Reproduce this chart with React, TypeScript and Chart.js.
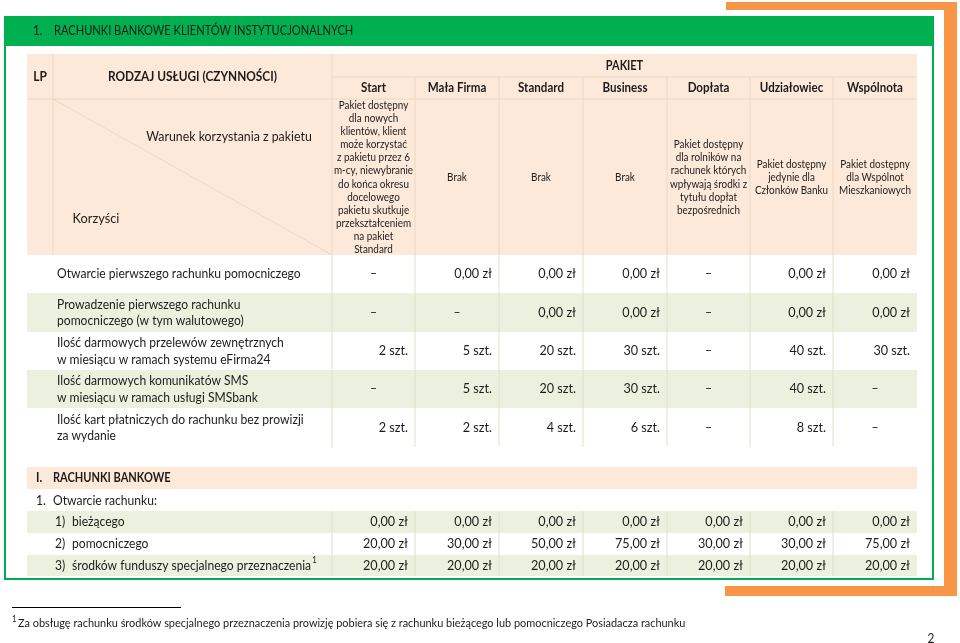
import { useEffect, useRef } from 'react';
import { Chart, registerables } from 'chart.js';

Chart.register(...registerables);

// ---------- data ----------
const titleNumber = '1.';
const titleText = 'RACHUNKI BANKOWE KLIENTÓW INSTYTUCJONALNYCH';
const packages = ['Start', 'Mała Firma', 'Standard', 'Business', 'Dopłata', 'Udziałowiec', 'Wspólnota'];

const conditionsStart = ['Pakiet dostępny', 'dla nowych', 'klientów, klient', 'może korzystać', 'z pakietu przez 6', 'm-cy, niewybranie', 'do końca okresu', 'docelowego', 'pakietu skutkuje', 'przekształceniem', 'na pakiet', 'Standard'];
const conditionsMalaFirma = ['Brak'];
const conditionsStandard = ['Brak'];
const conditionsBusiness = ['Brak'];
const conditionsDoplata = ['Pakiet dostępny', 'dla rolników na', 'rachunek których', 'wpływają środki z', 'tytułu dopłat', 'bezpośrednich'];
const conditionsUdzialowiec = ['Pakiet dostępny', 'jedynie dla', 'Członków Banku'];
const conditionsWspolnota = ['Pakiet dostępny', 'dla Wspólnot', 'Mieszkaniowych'];
const conditions = [conditionsStart, conditionsMalaFirma, conditionsStandard, conditionsBusiness, conditionsDoplata, conditionsUdzialowiec, conditionsWspolnota];

const benefitLabels = [
  ['Otwarcie pierwszego rachunku pomocniczego'],
  ['Prowadzenie pierwszego rachunku', 'pomocniczego (w tym walutowego)'],
  ['Ilość darmowych przelewów zewnętrznych', 'w miesiącu w ramach systemu eFirma24'],
  ['Ilość darmowych komunikatów SMS', 'w miesiącu w ramach usługi SMSbank'],
  ['Ilość kart płatniczych do rachunku bez prowizji', 'za wydanie'],
];
const benefitUnits = ['zł', 'zł', 'szt.', 'szt.', 'szt.'];
const openingFirstAux = [null, 0, 0, 0, null, 0, 0];
const keepingFirstAux = [null, null, 0, 0, null, 0, 0];
const freeTransfers = [2, 5, 20, 30, null, 40, 30];
const freeSms = [null, 5, 20, 30, null, 40, null];
const freeCards = [2, 2, 4, 6, null, 8, null];
const benefitValues = [openingFirstAux, keepingFirstAux, freeTransfers, freeSms, freeCards];

const sectionNumber = 'I.';
const sectionTitle = 'RACHUNKI BANKOWE';
const subNumber = '1.';
const subTitle = 'Otwarcie rachunku:';
const openingLabels = ['bieżącego', 'pomocniczego', 'środków funduszy specjalnego przeznaczenia'];
const feeCurrent = [0, 0, 0, 0, 0, 0, 0];
const feeAuxiliary = [20, 30, 50, 75, 30, 30, 75];
const feeSpecial = [20, 20, 20, 20, 20, 20, 20];
const openingFees = [feeCurrent, feeAuxiliary, feeSpecial];

const footnote = 'Za obsługę rachunku środków specjalnego przeznaczenia prowizję pobiera się z rachunku bieżącego lub pomocniczego Posiadacza rachunku';
const pageNumber = '2';

// ---------- layout ----------
const W = 960;
const H = 643;
const colEdges = [27, 53, 332, 415, 499, 583, 667, 750, 833, 917];
const benefitRowEdges = [255, 293, 332, 370, 408, 447];
const openingRowEdges = [511, 533, 555, 576];

const FONT = 'Lato, "Open Sans", "Liberation Sans", sans-serif';
const TEXT = '#1c1c1c';
const GREEN = '#00B050';
const ORANGE = '#F79646';
const PEACH = '#FDE9D9';
const LIGHTGREEN = '#EBF1DE';
const LINE_PEACH = '#EBD8C3';
const LINE_WHITE = '#DCE3C9';
const SQ = 0.91; // horizontal condensing to approximate Calibri proportions
const BODY = 13.3;

const fmtValue = (v: number | null, unit: string) => {
  if (v === null) return null;
  if (unit === 'zł') return v.toFixed(2).replace('.', ',') + ' zł';
  return v + ' ' + unit;
};

const tablePlugin = {
  id: 'tablePlugin',
  afterDraw(chart: any) {
    const ctx: CanvasRenderingContext2D = chart.ctx;
    const sx = chart.scales.x;
    const sy = chart.scales.y;
    const X = (v: number) => sx.getPixelForValue(v);
    const Y = (v: number) => sy.getPixelForValue(v);
    const rect = (x0: number, y0: number, x1: number, y1: number, color: string) => {
      ctx.fillStyle = color;
      ctx.fillRect(X(x0), Y(y0), X(x1) - X(x0), Y(y1) - Y(y0));
    };
    const line = (x0: number, y0: number, x1: number, y1: number, color: string, w = 1) => {
      ctx.strokeStyle = color;
      ctx.lineWidth = w;
      ctx.beginPath();
      ctx.moveTo(X(x0), Y(y0));
      ctx.lineTo(X(x1), Y(y1));
      ctx.stroke();
    };
    const text = (s: string, x: number, y: number, size: number, align: CanvasTextAlign = 'left', weight = 'normal', sq = SQ, color = TEXT) => {
      ctx.save();
      ctx.font = `${weight} ${size}px ${FONT}`;
      ctx.fillStyle = color;
      ctx.textAlign = align;
      ctx.textBaseline = 'middle';
      ctx.translate(X(x), Y(y));
      ctx.scale(sq, 1);
      ctx.fillText(s, 0, 0);
      const w = ctx.measureText(s).width * sq;
      ctx.restore();
      return w;
    };

    ctx.save();
    // orange frame
    rect(726, 2, 957, 10, ORANGE);
    rect(944, 2, 957, 596, ORANGE);
    rect(725, 586, 957, 596, ORANGE);
    // white inner area + green frame
    rect(5, 16, 933, 579, '#ffffff');
    rect(4, 16, 934, 45, GREEN);
    ctx.strokeStyle = GREEN;
    ctx.lineWidth = 2;
    ctx.strokeRect(X(5), Y(45), X(933) - X(5), Y(579) - Y(45));
    text(titleNumber, 33, 31, 13.3, 'left', 'normal', 0.87, '#1a1a1a');
    text(titleText, 54, 31, 13.3, 'left', 'normal', 0.835, '#1a1a1a');

    const L = colEdges[0];
    const R = colEdges[colEdges.length - 1];
    // header background
    rect(L, 54, R, 255, PEACH);
    // benefit bands
    for (let i = 0; i < benefitValues.length; i++) {
      if (i % 2 === 1) rect(L, benefitRowEdges[i], R, benefitRowEdges[i + 1], LIGHTGREEN);
    }
    // header grid
    line(colEdges[2], 77, R, 77, LINE_PEACH);
    line(L, 99, R, 99, LINE_PEACH);
    line(colEdges[1], 54, colEdges[1], 255, LINE_PEACH);
    line(colEdges[2], 54, colEdges[2], 255, LINE_PEACH);
    for (let c = 3; c < colEdges.length - 1; c++) line(colEdges[c], 77, colEdges[c], 255, LINE_PEACH);
    line(colEdges[1], 99, colEdges[2], 255, LINE_PEACH);
    // benefit grid
    for (let c = 2; c < colEdges.length - 1; c++) line(colEdges[c], 255, colEdges[c], benefitRowEdges[benefitRowEdges.length - 1], LINE_WHITE);

    // header text
    text('LP', (colEdges[0] + colEdges[1]) / 2, 77, 13.3, 'center', 'bold', 0.9);
    text('RODZAJ USŁUGI (CZYNNOŚCI)', (colEdges[1] + colEdges[2]) / 2, 77, 13.3, 'center', 'bold', 0.89);
    text('PAKIET', (colEdges[2] + R) / 2, 65.5, 13.3, 'center', 'bold', 0.82);
    packages.forEach((p, i) => text(p, (colEdges[i + 2] + colEdges[i + 3]) / 2, 88, 13.3, 'center', 'bold', 0.87));
    text('Warunek korzystania z pakietu', 229, 136, 14.2, 'center', 'normal', 0.87);
    text('Korzyści', 96, 218, 14.2, 'center', 'normal', 0.9);
    const lh = 13.1;
    conditions.forEach((lines, i) => {
      const cx = (colEdges[i + 2] + colEdges[i + 3]) / 2;
      const y0 = 177.5 - ((lines.length - 1) * lh) / 2;
      lines.forEach((s, k) => text(s, cx, y0 + k * lh, 11, 'center', 'normal', 0.9));
    });

    // benefit rows
    benefitLabels.forEach((lines, r) => {
      const yc = (benefitRowEdges[r] + benefitRowEdges[r + 1]) / 2;
      const y0 = yc - ((lines.length - 1) * 16.5) / 2;
      lines.forEach((s, k) => text(s, 57, y0 + k * 16.5, BODY));
      benefitValues[r].forEach((v, c) => {
        const s = fmtValue(v, benefitUnits[r]);
        if (s === null) text('–', (colEdges[c + 2] + colEdges[c + 3]) / 2, yc, BODY, 'center');
        else text(s, colEdges[c + 3] - 7, yc, BODY, 'right', 'normal', 0.95);
      });
    });

    // section 2
    rect(L, 467, R, 489, PEACH);
    text(sectionNumber, 36, 478, 13.3, 'left', 'bold', 0.88);
    text(sectionTitle, 53, 478, 13.3, 'left', 'bold', 0.83);
    text(subNumber, 36, 500.5, BODY);
    text(subTitle, 53, 500.5, BODY);
    for (let i = 0; i < openingFees.length; i++) {
      if (i % 2 === 0) rect(L, openingRowEdges[i], R, openingRowEdges[i + 1], LIGHTGREEN);
    }
    for (let c = 2; c < colEdges.length - 1; c++) line(colEdges[c], openingRowEdges[0], colEdges[c], openingRowEdges[openingRowEdges.length - 1], LINE_WHITE);
    openingLabels.forEach((lab, r) => {
      const yc = (openingRowEdges[r] + openingRowEdges[r + 1]) / 2;
      text(`${r + 1})`, 55, yc, BODY);
      const w = text(lab, 72, yc, BODY);
      if (r === 2) text('1', 72 + w + 1, yc - 5, 8.5);
      openingFees[r].forEach((v, c) => text(fmtValue(v, 'zł') as string, colEdges[c + 3] - 7, yc, BODY, 'right', 'normal', 0.95));
    });

    // footnote
    line(12, 607.5, 181, 607.5, '#000000', 1);
    text('1', 12, 619, 8.5);
    text(footnote, 18, 623, 12);
    text(pageNumber, 931, 639, 13, 'center');
    ctx.restore();
  },
};

export default function App() {
  const ref = useRef<HTMLCanvasElement>(null);
  useEffect(() => {
    document.body.style.margin = '0';
    const chart = new Chart(ref.current as HTMLCanvasElement, {
      type: 'scatter',
      data: { datasets: [{ data: [], pointRadius: 0 }] },
      options: {
        animation: false,
        responsive: false,
        maintainAspectRatio: false,
        devicePixelRatio: 1,
        layout: { padding: 0 },
        plugins: { legend: { display: false }, tooltip: { enabled: false } },
        scales: {
          x: { type: 'linear', min: 0, max: W, display: false },
          y: { type: 'linear', min: 0, max: H, reverse: true, display: false },
        },
      },
      plugins: [tablePlugin],
    });
    return () => chart.destroy();
  }, []);
  return (
    <div style={{ position: 'absolute', left: 0, top: 0, width: W, height: H, background: '#fff' }}>
      <canvas ref={ref} width={W} height={H} style={{ width: W, height: H, display: 'block' }} />
    </div>
  );
}
